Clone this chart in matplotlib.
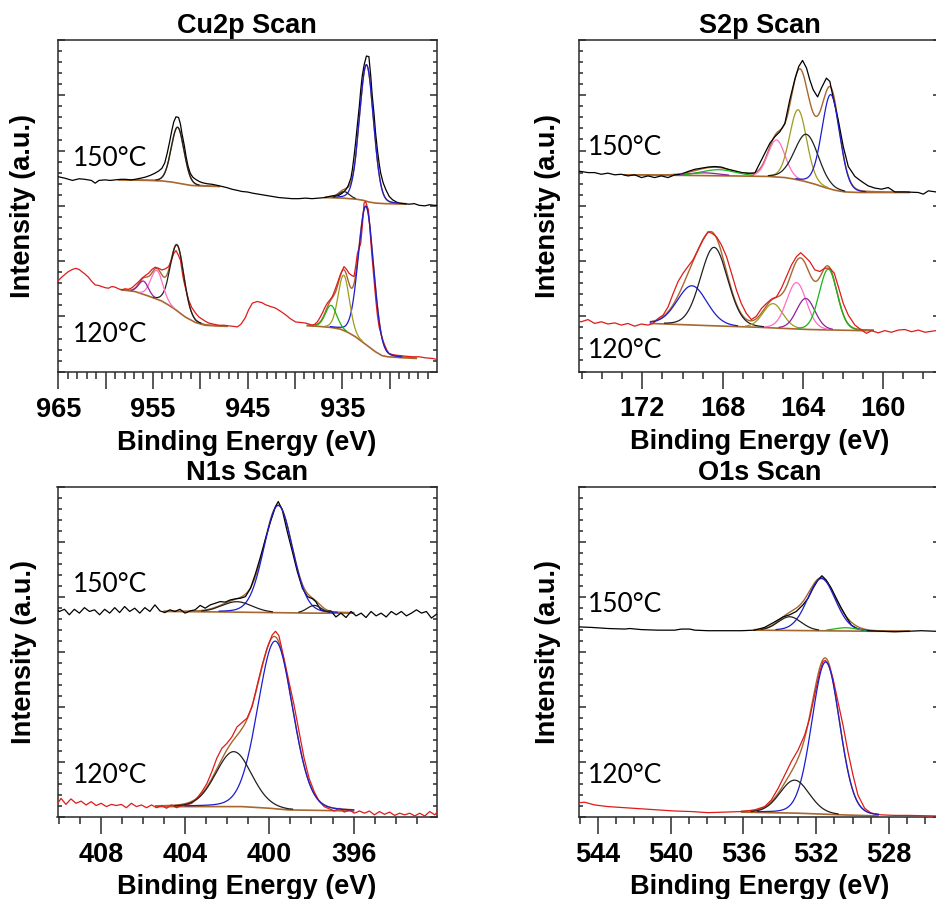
import numpy as np
import matplotlib
matplotlib.use("Agg")
import matplotlib.pyplot as plt
from matplotlib.ticker import MultipleLocator, FuncFormatter

# ---------------------------------------------------------------- Cu2p scan
cu2p_150_scan = [
    (965.1, 3.53), (964.3, 3.50), (963.5, 3.46), (962.8, 3.49), (962.2, 3.48),
    (961.5, 3.46), (961.1, 3.41), (960.7, 3.46), (960.05, 3.47), (959.5, 3.46),
    (959.0, 3.47), (958.4, 3.48), (957.9, 3.48), (957.3, 3.47), (956.9, 3.48),
    (956.3, 3.50), (955.8, 3.52), (955.3, 3.55), (954.8, 3.59), (954.4, 3.63),
    (954.05, 3.68), (953.75, 3.78), (953.5, 3.95), (953.25, 4.15), (953.0, 4.37),
    (952.8, 4.52), (952.57, 4.61), (952.3, 4.60), (952.1, 4.48), (951.94, 4.31),
    (951.7, 4.10), (951.5, 3.89), (951.3, 3.72), (951.06, 3.59), (950.8, 3.52),
    (950.5, 3.48), (950.1, 3.44), (949.8, 3.42), (949.3, 3.40), (948.76, 3.39),
    (948.2, 3.37), (947.7, 3.35), (947.2, 3.33), (946.65, 3.30), (946.1, 3.28),
    (945.6, 3.26), (945.0, 3.25), (944.5, 3.23), (943.8, 3.21), (943.1, 3.19),
    (942.4, 3.17), (941.7, 3.15), (941.0, 3.14), (940.3, 3.13), (939.6, 3.13),
    (938.9, 3.14), (938.2, 3.13), (937.5, 3.14), (936.8, 3.15), (936.4, 3.17),
    (936.06, 3.18), (935.7, 3.19), (935.36, 3.19), (935.0, 3.23), (934.65, 3.29),
    (934.4, 3.36), (934.1, 3.50), (933.95, 3.65), (933.77, 3.89), (933.6, 4.15),
    (933.4, 4.49), (933.2, 4.82), (933.06, 5.10), (932.9, 5.35), (932.7, 5.55),
    (932.46, 5.71), (932.2, 5.70), (932.0, 5.34), (931.85, 5.00), (931.66, 4.67),
    (931.5, 4.33), (931.3, 4.01), (931.1, 3.75), (930.95, 3.59), (930.7, 3.42),
    (930.4, 3.29), (930.05, 3.17), (929.7, 3.11), (929.3, 3.07), (929.0, 3.05),
    (928.5, 3.04), (927.95, 3.03), (927.4, 3.04), (926.9, 3.01), (926.3, 3.00),
    (925.8, 3.02), (925.3, 3.01), (925.0, 3.01),
]
cu2p_120_scan = [
    (965.1, 1.63), (964.64, 1.71), (963.94, 1.81), (963.5, 1.85), (963.16, 1.87),
    (962.8, 1.85), (962.52, 1.81), (962.2, 1.77), (961.82, 1.71), (961.45, 1.63),
    (961.1, 1.57), (960.75, 1.56), (960.4, 1.54), (960.05, 1.52), (959.7, 1.51),
    (959.35, 1.54), (959.0, 1.53), (958.65, 1.50), (958.29, 1.48), (957.95, 1.50),
    (957.59, 1.49), (957.2, 1.52), (956.88, 1.57), (956.5, 1.63), (956.17, 1.69),
    (955.8, 1.74), (955.47, 1.78), (955.1, 1.85), (954.76, 1.89), (954.4, 1.87),
    (954.05, 1.84), (953.7, 1.86), (953.35, 1.90), (953.05, 2.02), (952.8, 2.14),
    (952.57, 2.19), (952.35, 2.12), (952.1, 2.02), (951.95, 1.85), (951.77, 1.66),
    (951.5, 1.47), (951.24, 1.30), (950.9, 1.16), (950.5, 1.06), (950.15, 0.99),
    (949.8, 0.95), (949.45, 0.91), (949.1, 0.88), (948.6, 0.86), (948.06, 0.84),
    (947.5, 0.84), (947.0, 0.83), (946.5, 0.82), (946.1, 0.81), (945.7, 0.86),
    (945.24, 0.98), (944.9, 1.12), (944.5, 1.24), (944.0, 1.27), (943.5, 1.25),
    (943.1, 1.21), (942.6, 1.18), (942.06, 1.15), (941.5, 1.09), (941.0, 1.03),
    (940.5, 0.96), (939.94, 0.90), (939.4, 0.89), (938.89, 0.88), (938.5, 0.86),
    (938.18, 0.84), (937.9, 0.86), (937.65, 0.90), (937.4, 0.97), (937.12, 1.06),
    (936.85, 1.16), (936.59, 1.24), (936.3, 1.30), (936.06, 1.36), (935.8, 1.47),
    (935.53, 1.60), (935.2, 1.76), (934.83, 1.90), (934.55, 1.85), (934.3, 1.78),
    (934.0, 1.74), (933.77, 1.72), (933.6, 1.90), (933.41, 2.14), (933.2, 2.25),
    (933.06, 2.32), (932.9, 2.62), (932.71, 3.05), (932.55, 3.08), (932.4, 3.00),
    (932.25, 2.93), (932.1, 2.60), (931.9, 2.14), (931.7, 1.75), (931.47, 1.30),
    (931.3, 1.02), (931.12, 0.81), (930.85, 0.64), (930.6, 0.51), (930.3, 0.39),
    (930.07, 0.33), (929.7, 0.31), (929.36, 0.30), (928.8, 0.29), (928.3, 0.28),
    (927.6, 0.27), (926.9, 0.27), (926.2, 0.25), (925.47, 0.24), (925.0, 0.22),
]
# Shirley backgrounds and fitted components (center eV, height, FWHM eV)
cu2p_150_bg_2p1 = [(958.6, 3.47), (955.5, 3.46), (954.0, 3.45), (953.0, 3.43),
                   (952.0, 3.40), (951.0, 3.37), (950.0, 3.36), (948.0, 3.35)]
cu2p_150_fit_2p1 = [(952.4, 1.01, 1.6)]
cu2p_150_bg_2p3 = [(936.8, 3.15), (935.0, 3.14), (933.5, 3.12), (932.8, 3.10),
                   (932.2, 3.07), (931.5, 3.05), (930.5, 3.04), (928.3, 3.03)]
cu2p_150_fit_2p3 = [(932.45, 2.47, 1.75), (934.8, 0.12, 1.3)]
cu2p_120_bg_2p1 = [(958.3, 1.48), (956.9, 1.45), (955.5, 1.37), (954.1, 1.28),
                   (953.3, 1.20), (952.6, 1.12), (951.6, 0.99), (950.5, 0.89),
                   (949.5, 0.84), (948.5, 0.83), (947.2, 0.82)]
cu2p_120_fit_2p1 = [(952.45, 1.19, 1.7), (954.6, 0.52, 1.5), (956.0, 0.24, 1.2)]
cu2p_120_bg_2p3 = [(938.7, 0.83), (937.5, 0.82), (936.2, 0.80), (935.2, 0.77),
                   (934.4, 0.71), (933.6, 0.63), (932.9, 0.54), (932.2, 0.45),
                   (931.5, 0.36), (930.8, 0.29), (930.2, 0.27), (928.5, 0.25),
                   (927.2, 0.24)]
cu2p_120_fit_2p3 = [(932.5, 2.5, 1.9), (934.85, 1.0, 1.4), (936.2, 0.40, 1.4)]

# ----------------------------------------------------------------- S2p scan
s2p_150_scan = [
    (175.38, 3.63), (175.05, 3.62), (174.71, 3.60), (174.38, 3.60), (174.05, 3.57),
    (173.72, 3.59), (173.38, 3.56), (173.05, 3.57), (172.72, 3.54), (172.39, 3.56),
    (172.05, 3.51), (171.72, 3.54), (171.39, 3.51), (171.06, 3.54), (170.72, 3.51),
    (170.39, 3.56), (170.06, 3.57), (169.73, 3.62), (169.39, 3.66), (169.06, 3.68),
    (168.73, 3.70), (168.4, 3.71), (168.07, 3.70), (167.73, 3.66), (167.4, 3.63),
    (167.07, 3.60), (166.73, 3.59), (166.4, 3.59), (166.15, 3.77), (165.9, 3.95),
    (165.65, 4.13), (165.4, 4.25), (165.15, 4.34), (164.9, 4.49), (164.66, 4.91),
    (164.41, 5.28), (164.21, 5.52), (164.02, 5.63), (163.82, 5.49), (163.66, 5.28),
    (163.49, 5.10), (163.27, 4.97), (163.08, 5.13), (162.83, 5.31), (162.66, 5.25),
    (162.5, 4.97), (162.24, 4.55), (161.99, 4.07), (161.74, 3.71), (161.41, 3.53),
    (161.08, 3.44), (160.75, 3.36), (160.42, 3.32), (160.08, 3.30), (159.75, 3.33),
    (159.42, 3.25), (158.92, 3.25), (158.25, 3.24), (158.0, 3.21), (157.75, 3.27),
    (157.37, 3.25), (157.1, 3.25),
]
s2p_120_scan = [
    (175.38, 0.93), (175.05, 0.90), (174.71, 0.94), (174.38, 0.87), (174.05, 0.90),
    (173.72, 0.86), (173.38, 0.88), (173.05, 0.84), (172.72, 0.87), (172.39, 0.82),
    (172.05, 0.86), (171.72, 0.84), (171.47, 0.87), (171.22, 0.96), (170.97, 1.02),
    (170.72, 1.17), (170.47, 1.41), (170.22, 1.63), (169.97, 1.78), (169.73, 1.90),
    (169.48, 2.02), (169.23, 2.20), (168.98, 2.38), (168.73, 2.53), (168.53, 2.50),
    (168.31, 2.44), (168.06, 2.29), (167.81, 2.08), (167.56, 1.78), (167.31, 1.47),
    (167.07, 1.23), (166.82, 1.05), (166.57, 0.94), (166.32, 1.00), (166.07, 1.14),
    (165.82, 1.23), (165.57, 1.31), (165.32, 1.35), (165.07, 1.51), (164.82, 1.72),
    (164.57, 1.93), (164.32, 2.08), (164.11, 2.15), (163.91, 2.08), (163.66, 1.99),
    (163.41, 1.84), (163.16, 1.81), (162.91, 1.87), (162.66, 1.87), (162.44, 1.78),
    (162.24, 1.54), (161.99, 1.23), (161.74, 1.02), (161.41, 0.84), (161.08, 0.75),
    (160.83, 0.69), (160.58, 0.74), (160.25, 0.70), (159.92, 0.74), (159.59, 0.71),
    (159.25, 0.75), (158.92, 0.76), (158.59, 0.72), (158.25, 0.75), (157.92, 0.71),
    (157.37, 0.74), (157.1, 0.73),
]
s2p_150_bg = [(172.9, 3.56), (170.0, 3.55), (167.5, 3.54), (165.7, 3.53), (164.9, 3.51),
              (164.4, 3.48), (163.9, 3.44), (163.4, 3.39), (162.9, 3.33), (162.4, 3.28),
              (161.9, 3.25), (161.2, 3.24), (158.7, 3.24)]
s2p_150_fit = [(165.32, 0.67, 1.0), (164.24, 1.27, 1.0), (163.82, 0.86, 1.4),
               (162.61, 1.71, 1.05), (168.9, 0.05, 1.8), (168.2, 0.11, 2.0)]
s2p_120_bg = [(171.6, 0.87), (168.7, 0.83), (166.2, 0.80), (163.7, 0.76),
              (161.1, 0.74), (160.5, 0.74)]
s2p_120_fit = [(169.53, 0.71, 1.75), (168.43, 1.42, 1.6), (165.49, 0.44, 1.16),
               (164.32, 0.84, 1.16), (163.86, 0.56, 1.08), (162.74, 1.10, 1.05)]

# ----------------------------------------------------------------- N1s scan
n1s_150_scan = [
    (410.1, 3.76), (409.98, 3.73), (409.74, 3.77), (409.51, 3.67), (409.27, 3.77),
    (409.03, 3.70), (408.79, 3.80), (408.55, 3.73), (408.31, 3.76), (408.07, 3.67),
    (407.83, 3.77), (407.59, 3.70), (407.35, 3.80), (407.12, 3.71), (406.88, 3.82),
    (406.64, 3.73), (406.4, 3.79), (406.16, 3.70), (405.92, 3.80), (405.68, 3.73),
    (405.44, 3.85), (405.2, 3.74), (404.97, 3.71), (404.73, 3.76), (404.49, 3.73),
    (404.25, 3.77), (404.01, 3.70), (403.77, 3.74), (403.53, 3.76), (403.29, 3.84),
    (403.05, 3.79), (402.81, 3.85), (402.57, 3.88), (402.34, 3.91), (402.1, 3.90),
    (401.86, 3.94), (401.62, 3.96), (401.38, 3.97), (401.14, 4.00), (400.9, 4.15),
    (400.66, 4.42), (400.42, 4.73), (400.18, 5.06), (399.95, 5.36), (399.71, 5.64),
    (399.58, 5.73), (399.39, 5.58), (399.15, 5.18), (398.91, 4.82), (398.67, 4.45),
    (398.43, 4.15), (398.19, 4.00), (397.95, 3.96), (397.8, 3.91), (397.56, 3.76),
    (397.32, 3.73), (397.08, 3.74), (396.84, 3.63), (396.6, 3.70), (396.36, 3.62),
    (396.12, 3.73), (395.88, 3.65), (395.64, 3.70), (395.41, 3.62), (395.17, 3.73),
    (394.93, 3.65), (394.69, 3.70), (394.45, 3.63), (394.21, 3.73), (393.97, 3.67),
    (393.73, 3.73), (393.49, 3.65), (393.25, 3.70), (393.01, 3.76), (392.77, 3.70),
    (392.54, 3.73), (392.3, 3.61), (392.06, 3.68),
]
n1s_120_scan = [
    (410.1, 0.28), (410.06, 0.24), (409.9, 0.33), (409.67, 0.22), (409.43, 0.32),
    (409.19, 0.24), (408.95, 0.28), (408.71, 0.21), (408.47, 0.27), (408.23, 0.20),
    (407.99, 0.24), (407.75, 0.18), (407.51, 0.22), (407.27, 0.20), (407.04, 0.22),
    (406.8, 0.16), (406.56, 0.24), (406.32, 0.18), (406.08, 0.21), (405.84, 0.16),
    (405.6, 0.21), (405.36, 0.16), (405.12, 0.20), (404.89, 0.15), (404.65, 0.21),
    (404.41, 0.16), (404.17, 0.20), (403.93, 0.21), (403.69, 0.24), (403.45, 0.33),
    (403.21, 0.45), (402.97, 0.60), (402.73, 0.82), (402.5, 1.06), (402.26, 1.24),
    (402.02, 1.33), (401.78, 1.45), (401.54, 1.63), (401.3, 1.71), (401.06, 1.79),
    (400.82, 2.00), (400.58, 2.39), (400.34, 2.76), (400.11, 3.06), (399.87, 3.30),
    (399.71, 3.37), (399.55, 3.29), (399.31, 2.88), (399.07, 2.45), (398.83, 2.03),
    (398.59, 1.54), (398.35, 1.06), (398.11, 0.69), (397.87, 0.45), (397.64, 0.28),
    (397.4, 0.18), (397.16, 0.14), (396.92, 0.10), (396.68, 0.15), (396.44, 0.08),
    (396.2, 0.12), (395.96, 0.06), (395.72, 0.10), (395.48, 0.06), (395.25, 0.10),
    (395.01, 0.03), (394.77, 0.09), (394.53, 0.04), (394.29, 0.08), (394.05, 0.02),
    (393.81, 0.06), (393.57, 0.03), (393.33, 0.06), (393.09, 0.01), (392.86, 0.06),
    (392.62, 0.01), (392.38, 0.09), (392.14, 0.03), (391.98, 0.10),
]
n1s_150_bg = [(405.0, 3.73), (402.0, 3.72), (400.0, 3.71), (398.0, 3.70), (396.0, 3.70)]
n1s_150_fit = [(399.58, 1.95, 1.6), (401.54, 0.19, 1.7), (397.87, 0.14, 0.8)]
n1s_120_bg = [(405.4, 0.18), (401.3, 0.18), (400.0, 0.15), (399.1, 0.12),
              (397.5, 0.11), (396.0, 0.10)]
n1s_120_fit = [(399.72, 3.05, 1.95), (401.7, 1.0, 2.0)]

# ----------------------------------------------------------------- O1s scan
o1s_150_scan = [
    (545.1, 3.45), (544.36, 3.44), (543.44, 3.42), (542.53, 3.41), (542.25, 3.42),
    (541.61, 3.40), (540.7, 3.39), (539.78, 3.39), (539.41, 3.41), (538.96, 3.41),
    (538.68, 3.39), (537.95, 3.38), (537.03, 3.38), (536.12, 3.38), (535.39, 3.39),
    (534.84, 3.44), (534.29, 3.54), (533.83, 3.63), (533.46, 3.67), (533.1, 3.73),
    (532.73, 3.85), (532.45, 3.97), (532.18, 4.15), (531.91, 4.30), (531.69, 4.38),
    (531.45, 4.30), (531.17, 4.15), (530.9, 3.97), (530.62, 3.79), (530.35, 3.63),
    (530.07, 3.48), (529.71, 3.41), (529.16, 3.38), (528.43, 3.37), (527.69, 3.36),
    (526.96, 3.37), (526.23, 3.38), (525.44, 3.37), (525.2, 3.37),
]
o1s_120_scan = [
    (545.1, 0.25), (544.73, 0.26), (544.18, 0.21), (543.44, 0.18), (542.53, 0.16),
    (541.61, 0.14), (540.7, 0.12), (539.78, 0.10), (538.87, 0.09), (537.95, 0.07),
    (537.03, 0.08), (536.12, 0.09), (535.39, 0.12), (534.84, 0.18), (534.47, 0.30),
    (534.1, 0.51), (533.74, 0.75), (533.37, 1.00), (533.0, 1.21), (532.64, 1.48),
    (532.36, 1.79), (532.09, 2.21), (531.81, 2.63), (531.63, 2.82), (531.5, 2.84),
    (531.32, 2.76), (531.08, 2.51), (530.81, 2.09), (530.53, 1.66), (530.26, 1.18),
    (529.98, 0.75), (529.71, 0.39), (529.34, 0.15), (528.98, 0.06), (528.43, 0.03),
    (527.69, 0.02), (526.96, 0.02), (525.44, 0.01), (525.2, 0.01),
]
o1s_150_bg = [(535.4, 3.39), (532.0, 3.38), (529.0, 3.37), (526.9, 3.37)]
o1s_150_fit = [(531.72, 0.95, 1.8), (533.46, 0.25, 1.5), (530.35, 0.06, 1.5)]
o1s_120_bg = [(536.1, 0.08), (533.0, 0.06), (530.6, 0.03), (528.6, 0.01)]
o1s_120_fit = [(531.48, 2.77, 1.8), (533.19, 0.60, 1.9)]

# ------------------------------------------------------------------ styling
SPINE = "#2a2a2a"
BROWN = "#A8672E"
RED = "#E01A1A"
BLUE = "#1C1CD0"
OLIVE = "#9C9C1E"
GREEN = "#18B418"
PINK = "#FF6EC7"
PURPLE = "#9020A0"
DARK = "#202020"

cu2p_150_colors_2p1 = [DARK]
cu2p_150_colors_2p3 = [BLUE, DARK]
cu2p_120_colors_2p1 = [DARK, PINK, PURPLE]
cu2p_120_colors_2p3 = [BLUE, OLIVE, GREEN]
s2p_150_colors = [PINK, OLIVE, DARK, BLUE, PURPLE, GREEN]
s2p_120_colors = [BLUE, DARK, OLIVE, PINK, PURPLE, GREEN]
n1s_150_colors = [BLUE, DARK, DARK]
n1s_120_colors = [BLUE, DARK]
o1s_150_colors = [BLUE, DARK, GREEN]
o1s_120_colors = [BLUE, DARK]

plt.rcParams["font.family"] = ["Liberation Sans", "DejaVu Sans"]
plt.rcParams["font.weight"] = "bold"

FS = 19.5


def gl_peak(e, center, height, fwhm, mix=0.1):
    u = (e - center) / fwhm
    return height * ((1 - mix) * np.exp(-4 * np.log(2) * u ** 2) + mix / (1 + 4 * u ** 2))


def draw_fit(ax, bg, fit, colors):
    be, bi = np.array(bg).T
    order = np.argsort(be)
    be_s, bi_s = be[order], bi[order]
    grid = np.linspace(be_s[0], be_s[-1], 600)
    base = np.interp(grid, be_s, bi_s)
    envelope = base.copy()
    for (c, h, w), col in zip(fit, colors):
        comp = gl_peak(grid, c, h, w)
        envelope += comp
        ax.plot(grid, np.where(comp > 0.015, base + comp, np.nan),
                color=col, lw=0.9, zorder=4)
    ax.plot(grid, envelope, color=BROWN, lw=1.0, zorder=2)
    ax.plot(be, bi, color=BROWN, lw=1.2, zorder=2.5)


def draw_scan(ax, scan, color):
    e, i = np.array(scan).T
    ax.plot(e, i, color=color, lw=0.9, zorder=3)


def setup(ax, title, xlim, major, minor, label_every, ylabel_x, tx, ty150, ty120):
    ax.set_xlim(*xlim)
    ax.set_ylim(0, 6)
    ax.xaxis.set_major_locator(MultipleLocator(major))
    ax.xaxis.set_minor_locator(MultipleLocator(minor))
    ax.xaxis.set_major_formatter(FuncFormatter(
        lambda v, p: f"{v:.0f}" if label_every(round(v)) else ""))
    ax.yaxis.set_major_locator(MultipleLocator(1))
    ax.yaxis.set_minor_locator(MultipleLocator(0.2))
    ax.tick_params(axis="x", which="both", direction="out", bottom=True, top=False,
                   width=1.1, color=SPINE, labelsize=FS, pad=6)
    ax.tick_params(axis="x", which="major", length=12)
    ax.tick_params(axis="x", which="minor", length=5)
    ax.tick_params(axis="y", which="both", direction="in", left=True, right=True,
                   labelleft=False, width=1.1, color=SPINE)
    ax.tick_params(axis="y", which="major", length=5)
    ax.tick_params(axis="y", which="minor", length=3)
    for lab in ax.get_xticklabels():
        lab.set_fontweight("bold")
    for s in ax.spines.values():
        s.set_color(SPINE)
        s.set_linewidth(1.1)
    ax.set_title(title, fontsize=FS, fontweight="bold", pad=4.8)
    ax.set_xlabel("Binding Energy (eV)", fontsize=FS, fontweight="bold", va="baseline")
    ax.xaxis.set_label_coords(0.5, -0.235)
    ax.set_ylabel("Intensity (a.u.)", fontsize=FS, fontweight="bold")
    ax.yaxis.set_label_coords(ylabel_x, 0.5)
    for txt, ty in (("150°C", ty150), ("120°C", ty120)):
        ax.text(tx, ty, txt, transform=ax.transAxes, fontsize=19,
                family=["Lato", "DejaVu Sans"], fontweight="normal",
                ha="left", va="baseline", zorder=6)


W, H = 936, 899


def rect(left, right, top, bottom):
    return [left / W, 1 - bottom / H, (right - left) / W, (bottom - top) / H]


fig = plt.figure(figsize=(W / 100, H / 100), dpi=100)

# Cu2p
ax = fig.add_axes(rect(57.5, 436.5, 40, 371.7))
draw_fit(ax, cu2p_150_bg_2p1, cu2p_150_fit_2p1, cu2p_150_colors_2p1)
draw_fit(ax, cu2p_150_bg_2p3, cu2p_150_fit_2p3, cu2p_150_colors_2p3)
draw_fit(ax, cu2p_120_bg_2p1, cu2p_120_fit_2p1, cu2p_120_colors_2p1)
draw_fit(ax, cu2p_120_bg_2p3, cu2p_120_fit_2p3, cu2p_120_colors_2p3)
draw_scan(ax, cu2p_150_scan, "black")
draw_scan(ax, cu2p_120_scan, RED)
setup(ax, "Cu2p Scan", (965.08, 925.06), 5, 1, lambda v: v % 10 == 5,
      -0.058, 0.0417, 0.621, 0.0904)

# S2p
ax = fig.add_axes(rect(579, 940, 40, 371.5))
draw_fit(ax, s2p_150_bg, s2p_150_fit, s2p_150_colors)
draw_fit(ax, s2p_120_bg, s2p_120_fit, s2p_120_colors)
draw_scan(ax, s2p_150_scan, "black")
draw_scan(ax, s2p_120_scan, RED)
setup(ax, "S2p Scan", (175.16, 157.17), 4, 1, lambda v: True,
      -0.050, 0.0241, 0.653, 0.0398)

# N1s
ax = fig.add_axes(rect(57.5, 436.7, 486.7, 816.5))
draw_fit(ax, n1s_150_bg, n1s_150_fit, n1s_150_colors)
draw_fit(ax, n1s_120_bg, n1s_120_fit, n1s_120_colors)
draw_scan(ax, n1s_150_scan, "black")
draw_scan(ax, n1s_120_scan, RED)
setup(ax, "N1s Scan", (410.07, 392.05), 4, 1, lambda v: True,
      -0.055, 0.0417, 0.6816, 0.1007)

# O1s
ax = fig.add_axes(rect(579, 940, 486.7, 816.5))
draw_fit(ax, o1s_150_bg, o1s_150_fit, o1s_150_colors)
draw_fit(ax, o1s_120_bg, o1s_120_fit, o1s_120_colors)
draw_scan(ax, o1s_150_scan, "black")
draw_scan(ax, o1s_120_scan, RED)
setup(ax, "O1s Scan", (545.04, 525.2), 4, 1, lambda v: True,
      -0.050, 0.0241, 0.621, 0.1007)

fig.savefig("out.png", dpi=100)
